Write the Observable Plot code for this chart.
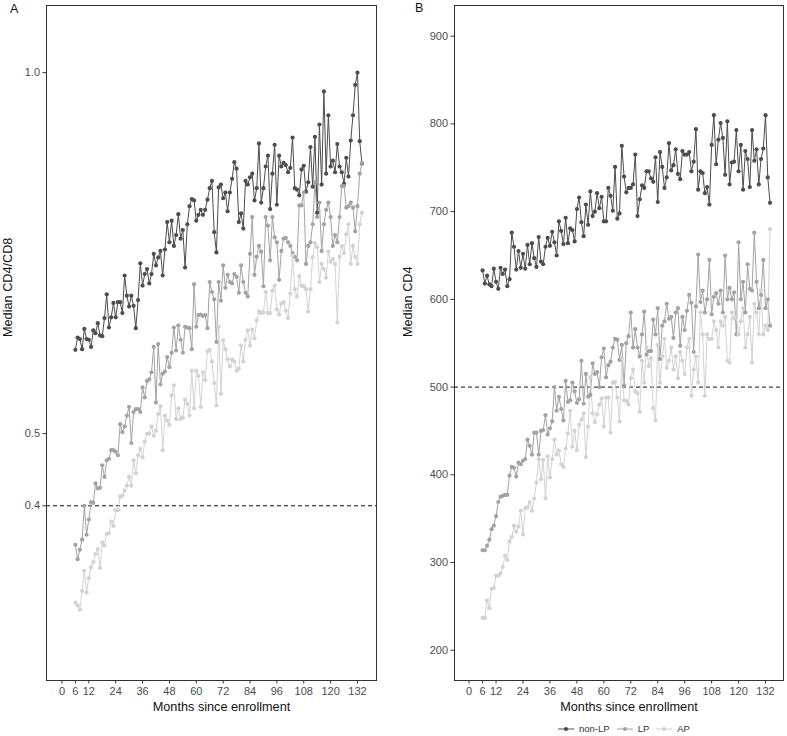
<!DOCTYPE html>
<html><head><meta charset="utf-8">
<script src="https://cdn.jsdelivr.net/npm/d3@7"></script>
<script src="https://cdn.jsdelivr.net/npm/@observablehq/plot@0.6"></script>
<style>
body{margin:0;background:#fff;font-family:"Liberation Sans",Arial,sans-serif;}
#wrap{position:relative;width:787px;height:736px;overflow:hidden;}
.panel{position:absolute;top:0;}
.tag{position:absolute;font-size:12.5px;color:#111;line-height:1;}
#legend{position:absolute;top:724px;left:558px;display:flex;align-items:center;font-size:9.5px;color:#333;line-height:1;}
#legend .item{display:flex;align-items:center;margin-right:7px;}
#legend svg{margin-right:5px;}
</style></head>
<body>
<div id="wrap">
  <div id="pa" class="panel" style="left:0px"></div>
  <div id="pb" class="panel" style="left:394px"></div>
  <div class="tag" style="left:10px;top:3px">A</div>
  <div class="tag" style="left:415px;top:2px">B</div>
  <div id="legend"></div>
</div>
<script>
// ---- categories / ticks ----
const groups = ["non-LP", "LP", "AP"];
const colors = ["#4d4d4d", "#a3a3a3", "#d3d3d3"];
const months = d3.range(6, 135); // monthly visits, month 6 .. 134
const xTicks = [0, 6, 12, 24, 36, 48, 60, 72, 84, 96, 108, 120, 132];
const ratioTicks = [0.4, 0.5, 1.0];
const cd4Ticks = [200, 300, 400, 500, 600, 700, 800, 900];
const ratioRef = 0.4;
const cd4Ref = 500;

// ---- Panel A: median CD4/CD8 ----
const ratioNonLP = [
  0.616,0.633,0.631,0.617,0.645,0.631,0.630,0.620,0.643,0.639,
  0.653,0.636,0.635,0.660,0.693,0.647,0.661,0.681,0.661,0.682,
  0.682,0.667,0.719,0.691,0.676,0.691,0.677,0.646,0.685,0.736,
  0.705,0.721,0.728,0.708,0.721,0.749,0.733,0.744,0.753,0.719,
  0.755,0.793,0.765,0.795,0.760,0.775,0.804,0.770,0.782,0.730,
  0.790,0.815,0.825,0.823,0.795,0.803,0.810,0.803,0.810,0.824,
  0.840,0.850,0.779,0.751,0.841,0.845,0.826,0.834,0.808,0.834,
  0.853,0.876,0.867,0.793,0.805,0.784,0.850,0.845,0.855,0.860,
  0.823,0.840,0.902,0.820,0.840,0.870,0.885,0.811,0.860,0.900,
  0.817,0.885,0.870,0.875,0.872,0.862,0.868,0.910,0.840,0.838,
  0.830,0.866,0.871,0.835,0.848,0.897,0.842,0.911,0.806,0.928,
  0.845,0.974,0.860,0.941,0.870,0.878,0.862,0.901,0.870,0.862,
  0.846,0.882,0.856,0.906,0.941,0.983,1.000,0.905,0.874
];
const ratioLP = [
  0.346,0.326,0.339,0.353,0.400,0.360,0.381,0.405,0.404,0.431,
  0.424,0.425,0.456,0.440,0.463,0.465,0.477,0.477,0.475,0.470,
  0.513,0.502,0.510,0.525,0.537,0.487,0.530,0.534,0.534,0.530,
  0.564,0.550,0.573,0.575,0.585,0.620,0.543,0.624,0.568,0.583,
  0.586,0.606,0.592,0.612,0.647,0.615,0.650,0.630,0.612,0.648,
  0.647,0.646,0.617,0.707,0.648,0.664,0.665,0.663,0.664,0.646,
  0.710,0.696,0.686,0.627,0.710,0.684,0.733,0.702,0.720,0.710,
  0.708,0.721,0.717,0.695,0.733,0.710,0.695,0.690,0.749,0.800,
  0.720,0.745,0.760,0.752,0.704,0.800,0.788,0.740,0.800,0.772,
  0.765,0.713,0.753,0.770,0.771,0.765,0.760,0.750,0.745,0.740,
  0.816,0.816,0.834,0.735,0.760,0.765,0.790,0.848,0.800,0.820,
  0.753,0.790,0.810,0.820,0.800,0.760,0.775,0.765,0.800,0.843,
  0.843,0.813,0.815,0.820,0.813,0.780,0.815,0.860,0.875
];
const ratioAP = [
  0.266,0.262,0.256,0.282,0.310,0.280,0.300,0.315,0.322,0.333,
  0.340,0.314,0.349,0.345,0.361,0.362,0.378,0.372,0.394,0.394,
  0.413,0.414,0.421,0.428,0.440,0.428,0.463,0.445,0.470,0.479,
  0.467,0.489,0.500,0.500,0.510,0.497,0.504,0.527,0.538,0.477,
  0.525,0.518,0.512,0.553,0.567,0.520,0.535,0.520,0.522,0.547,
  0.541,0.525,0.587,0.535,0.587,0.580,0.537,0.585,0.574,0.614,
  0.616,0.600,0.570,0.539,0.648,0.555,0.629,0.617,0.603,0.593,
  0.603,0.600,0.587,0.590,0.622,0.600,0.630,0.643,0.622,0.644,
  0.632,0.657,0.669,0.667,0.668,0.696,0.667,0.667,0.698,0.705,
  0.672,0.665,0.680,0.682,0.670,0.660,0.694,0.747,0.700,0.690,
  0.718,0.705,0.704,0.700,0.669,0.700,0.744,0.764,0.758,0.710,
  0.735,0.728,0.716,0.752,0.738,0.742,0.735,0.654,0.745,0.760,
  0.750,0.776,0.790,0.735,0.760,0.745,0.735,0.790,0.806
];

// ---- Panel B: median CD4 ----
const cd4NonLP = [
  633,618,627,617,615,635,620,612,636,629,
  634,615,623,676,660,634,655,636,652,635,
  662,640,664,647,637,671,643,640,660,670,
  661,677,665,650,689,678,663,693,664,681,
  679,666,703,716,688,672,708,685,723,695,
  700,721,704,717,689,689,727,718,701,751,
  692,698,775,740,722,727,727,731,765,695,
  714,730,727,746,746,738,734,762,711,768,
  751,727,739,778,747,753,771,743,737,769,
  765,765,768,746,757,794,725,746,744,721,
  728,708,776,810,754,782,801,784,742,803,
  731,756,757,793,746,776,725,769,760,728,
  793,758,771,731,760,772,810,739,710
];
const cd4LP = [
  314,314,319,326,338,342,353,369,375,376,
  377,377,399,409,408,398,414,412,416,418,
  440,433,423,448,448,423,450,451,468,446,
  453,461,500,473,489,475,462,507,483,485,
  505,495,482,486,530,481,515,489,491,527,
  515,517,500,534,544,511,525,529,545,555,
  554,531,548,502,550,558,585,545,566,545,
  535,560,586,537,541,541,577,560,590,532,
  570,575,595,578,580,556,585,590,547,580,
  565,587,605,596,540,592,651,597,610,585,
  600,645,583,603,607,595,610,585,650,600,
  613,600,608,560,665,600,620,585,640,612,
  610,676,620,590,605,645,590,600,570
];
const cd4AP = [
  237,237,257,248,270,271,285,285,288,295,
  308,303,324,329,342,335,341,359,332,362,
  363,369,359,373,391,418,395,417,373,421,
  397,418,440,423,428,412,409,430,447,473,
  432,450,428,457,463,470,420,455,511,470,
  460,469,480,487,455,488,488,448,505,506,
  488,461,533,485,484,480,510,520,495,493,
  472,530,505,545,524,533,476,462,548,505,
  535,555,522,530,545,520,535,510,540,530,
  515,545,555,490,520,535,505,585,560,490,
  560,555,555,575,565,545,575,570,580,530,
  528,585,578,580,560,575,590,545,560,580,
  528,595,585,560,610,560,570,565,680
];

function table(series) {
  const rows = [];
  series.forEach((arr, gi) => {
    arr.forEach((v, i) => rows.push({month: months[i], value: v, group: groups[gi]}));
  });
  return rows;
}

const FONT = "Liberation Sans, Arial, Helvetica, sans-serif";

function panel({data, width, marginLeft, marginRight, xDomain, yDomain, yTicks, yFormat, yLabel, yLabelDx, ref}) {
  return Plot.plot({
    width, height: 720,
    marginLeft, marginRight, marginTop: 5, marginBottom: 40,
    style: {fontFamily: FONT, background: "white", overflow: "visible"},
    x: {domain: xDomain},
    y: {domain: yDomain},
    color: {domain: groups, range: colors},
    marks: [
      Plot.frame({stroke: "#333", strokeWidth: 1}),
      Plot.axisX({ticks: xTicks, tickSize: 3.5, tickPadding: 3, fontSize: 11, stroke: "#333", fill: "#4d4d4d", label: null}),
      Plot.axisY({ticks: yTicks, tickFormat: yFormat, tickSize: 3.5, tickPadding: 3, fontSize: 11, stroke: "#333", fill: "#4d4d4d", label: null}),
      Plot.text(["Months since enrollment"], {frameAnchor: "bottom", dy: 30, dx: 10, fontSize: 12.7, fill: "#111"}),
      Plot.text([yLabel], {frameAnchor: "left", dx: yLabelDx, dy: -6, rotate: -90, fontSize: 12.7, fill: "#111"}),
      Plot.ruleY([ref], {stroke: "#111", strokeWidth: 1, strokeDasharray: "4,3"}),
      Plot.line(data, {x: "month", y: "value", z: "group", stroke: "group", strokeWidth: 1}),
      Plot.dot(data, {x: "month", y: "value", fill: "group", r: 2.1})
    ]
  });
}

document.getElementById("pa").append(panel({
  data: table([ratioNonLP, ratioLP, ratioAP]),
  width: 390, marginLeft: 46, marginRight: 14,
  xDomain: [-6.9, 140.5], yDomain: [0.158, 1.093],
  yTicks: ratioTicks, yFormat: d3.format(".1f"),
  yLabel: "Median CD4/CD8", yLabelDx: -39, ref: ratioRef
}));

document.getElementById("pb").append(panel({
  data: table([cd4NonLP, cd4LP, cd4AP]),
  width: 393, marginLeft: 60, marginRight: 4,
  xDomain: [-6.5, 140], yDomain: [165.5, 935],
  yTicks: cd4Ticks, yFormat: d3.format("d"),
  yLabel: "Median CD4", yLabelDx: -47, ref: cd4Ref
}));

// legend
const legend = d3.select("#legend");
groups.forEach((g, i) => {
  const item = legend.append("div").attr("class", "item");
  const s = item.append("svg").attr("width", 16).attr("height", 8);
  s.append("line").attr("x1", 0).attr("x2", 16).attr("y1", 4).attr("y2", 4).attr("stroke", colors[i]).attr("stroke-width", 1);
  s.append("circle").attr("cx", 8).attr("cy", 4).attr("r", 2.1).attr("fill", colors[i]);
  item.append("span").text(g);
});
</script>
</body></html>
